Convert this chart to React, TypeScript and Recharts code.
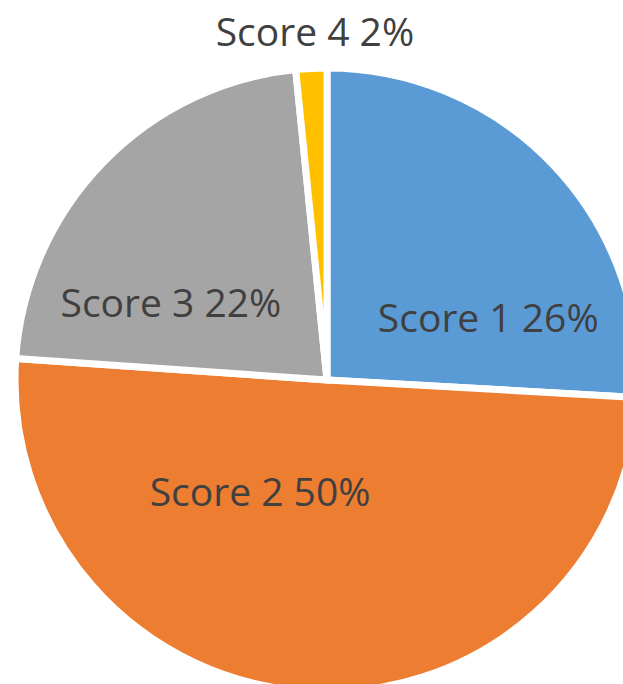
import React from 'react';
import { PieChart, Pie, Cell } from 'recharts';

// slices (share of total, %)
const categories = ['Score 1', 'Score 2', 'Score 3', 'Score 4'];
const shares = [25.9, 50.2, 22.3, 1.6];
const colors = ['#5B9BD5', '#ED7D31', '#A5A5A5', '#FFC000'];

// where each label sits: fraction of the radius, and turn away from the mid angle (deg)
const labelRadius = [0.555, 0.413, 0.56, 1.12];
const labelTurn = [-22, -27.7, 17.4, -0.9];

const data = categories.map((name, i) => ({ name, value: shares[i] }));

const RADIAN = Math.PI / 180;

const SliceLabel = ({ cx, cy, midAngle, outerRadius, percent, name, index }: any) => {
  const r = outerRadius * labelRadius[index];
  const a = (midAngle + labelTurn[index]) * RADIAN;
  const x = cx + r * Math.cos(-a);
  const y = cy + r * Math.sin(-a);
  return (
    <text
      x={x}
      y={y}
      textAnchor="middle"
      dominantBaseline="central"
      fill="#404040"
      fontSize={39}
      fontFamily="'Open Sans', sans-serif"
    >
      {`${name} ${Math.round(percent * 100)}%`}
    </text>
  );
};

export default function App() {
  return (
    <div style={{ position: 'absolute', left: 0, top: 0, width: 623, height: 684, background: '#fff', overflow: 'hidden' }}>
      <PieChart width={623} height={684} margin={{ top: 0, right: 0, bottom: 0, left: 0 }}>
        <Pie
          data={data}
          dataKey="value"
          nameKey="name"
          cx={327}
          cy={380}
          outerRadius={312}
          startAngle={90}
          endAngle={-270}
          stroke="#fff"
          strokeWidth={7}
          label={SliceLabel}
          labelLine={false}
          isAnimationActive={false}
        >
          {data.map((d, i) => (
            <Cell key={d.name} fill={colors[i]} />
          ))}
        </Pie>
      </PieChart>
    </div>
  );
}
